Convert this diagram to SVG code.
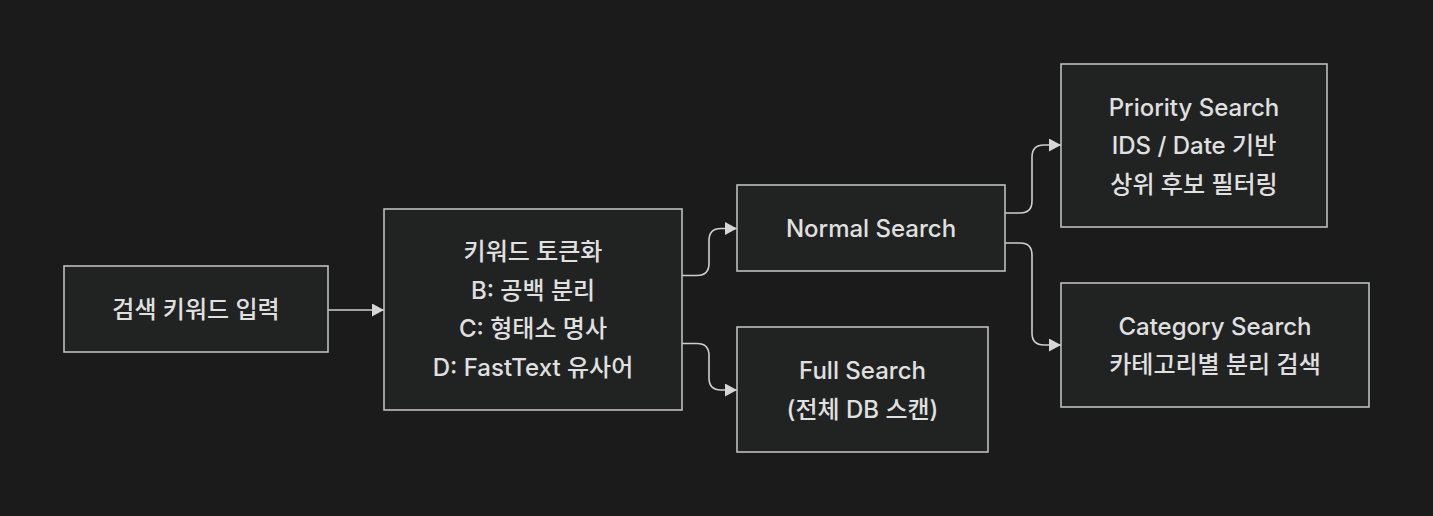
<svg xmlns="http://www.w3.org/2000/svg" width="1433" height="516" viewBox="0 0 1433 516">
<defs>
<style>
.node rect{fill:#212323;stroke:#bdbdbd;stroke-width:1.6}
.node text{fill:#e0e0e0;font-family:Inter,"Noto Sans CJK KR","Liberation Sans",sans-serif;font-size:24px;font-weight:500;text-anchor:middle;dominant-baseline:central}
.edge{fill:none;stroke:#cfcfcf;stroke-width:1.6}
</style>
<marker id="arr" markerUnits="userSpaceOnUse" markerWidth="13" markerHeight="14" refX="12" refY="6.5" orient="auto">
<path d="M0,0 L12,6.5 L0,13 z" fill="#d6d6d6"/>
</marker>
</defs>
<rect x="0" y="0" width="1433" height="516" fill="#1b1b1b"/>
<g id="connectors">
<path class="edge" marker-end="url(#arr)" d="M328,310 L384,310"/>
<path class="edge" marker-end="url(#arr)" d="M682,275.5 L697,275.5 Q709,275.5 709,263.5 L709,240.5 Q709,228.5 721,228.5 L737,228.5"/>
<path class="edge" marker-end="url(#arr)" d="M682,343.5 L697,343.5 Q709,343.5 709,355.5 L709,378 Q709,390 721,390 L737,390"/>
<path class="edge" marker-end="url(#arr)" d="M1005,213 L1020,213 Q1032,213 1032,201 L1032,157 Q1032,145 1044,145 L1061,145"/>
<path class="edge" marker-end="url(#arr)" d="M1005,243 L1020,243 Q1032,243 1032,255 L1032,333 Q1032,345 1044,345 L1061,345"/>
</g>
<g id="input" class="node">
<rect x="64" y="266" width="264" height="86"/>
<text x="196" y="309">검색 키워드 입력</text>
</g>
<g id="tokenize" class="node">
<rect x="384" y="209" width="298" height="201"/>
<text x="533" y="251.5">키워드 토큰화</text>
<text x="533" y="290">B: 공백 분리</text>
<text x="533" y="328.5">C: 형태소 명사</text>
<text x="533" y="367">D: FastText 유사어</text>
</g>
<g id="normal" class="node">
<rect x="737" y="185" width="268" height="86"/>
<text x="871" y="228">Normal Search</text>
</g>
<g id="full" class="node">
<rect x="737" y="327" width="251" height="125"/>
<text x="862.5" y="370.5">Full Search</text>
<text x="862.5" y="409">(전체 DB 스캔)</text>
</g>
<g id="priority" class="node">
<rect x="1061" y="64" width="266" height="163"/>
<text x="1194" y="107">Priority Search</text>
<text x="1194" y="145.5">IDS / Date 기반</text>
<text x="1194" y="184">상위 후보 필터링</text>
</g>
<g id="category" class="node">
<rect x="1061" y="283" width="308" height="124"/>
<text x="1215" y="326.5">Category Search</text>
<text x="1215" y="364">카테고리별 분리 검색</text>
</g>
</svg>
